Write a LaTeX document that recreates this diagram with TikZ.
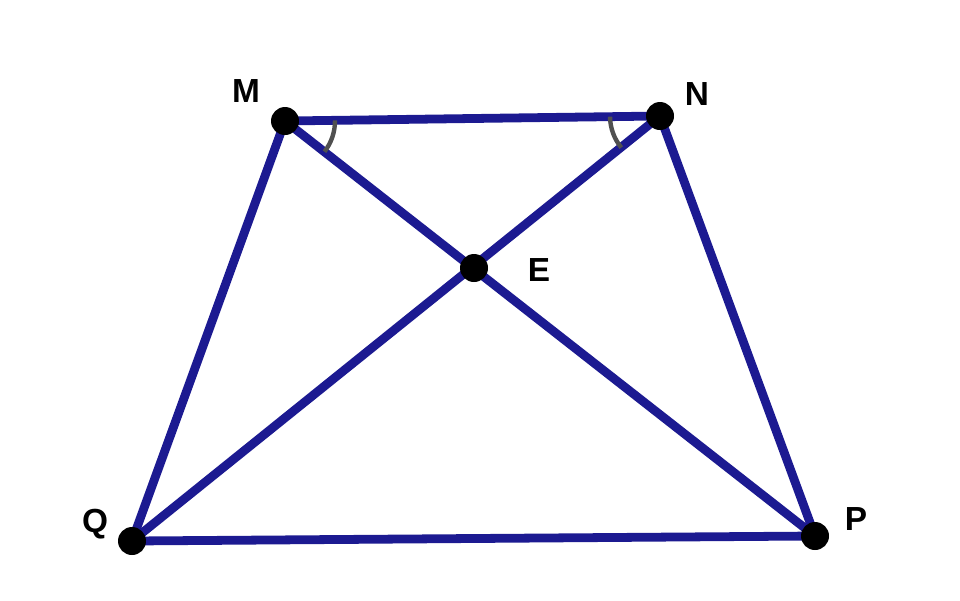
\documentclass[tikz,border=0pt]{standalone}
\usepackage{fontspec}
\setmainfont{Liberation Sans}
\usetikzlibrary{angles}
\definecolor{edgeblue}{RGB}{28,26,145}
\definecolor{markgray}{RGB}{80,80,80}
\tikzset{
  edge/.style={draw=edgeblue, line width=5pt, line cap=round},
  anglemark/.style={draw=markgray, line width=2.5pt},
  dot/.style={fill=black},
  lbl/.style={font=\bfseries\fontsize{19}{22}\selectfont, text=black}
}
\begin{document}
\begin{tikzpicture}[x=0.02cm,y=-0.02cm]
\useasboundingbox (0,0) rectangle (960,600);
\coordinate (M) at (285,121);
\coordinate (N) at (660,116);
\coordinate (E) at (474,268);
\coordinate (Q) at (132,541);
\coordinate (P) at (815,536);
\draw[edge] (M) -- (N);
\draw[edge] (N) -- (P);
\draw[edge] (P) -- (Q);
\draw[edge] (Q) -- (M);
\draw[edge] (M) -- (P);
\draw[edge] (N) -- (Q);
\pic[anglemark, angle radius=1cm] {angle = E--M--N};
\pic[anglemark, angle radius=1cm] {angle = M--N--E};
\foreach \p in {M,N,E,Q,P} { \fill[dot] (\p) circle (0.28cm); }
\node[lbl] (lM) at (246,91) {M};
\node[lbl] (lN) at (697,94) {N};
\node[lbl] (lE) at (539,270) {E};
\node[lbl] (lQ) at (95,524) {Q};
\node[lbl] (lP) at (856,519) {P};
\end{tikzpicture}
\end{document}
